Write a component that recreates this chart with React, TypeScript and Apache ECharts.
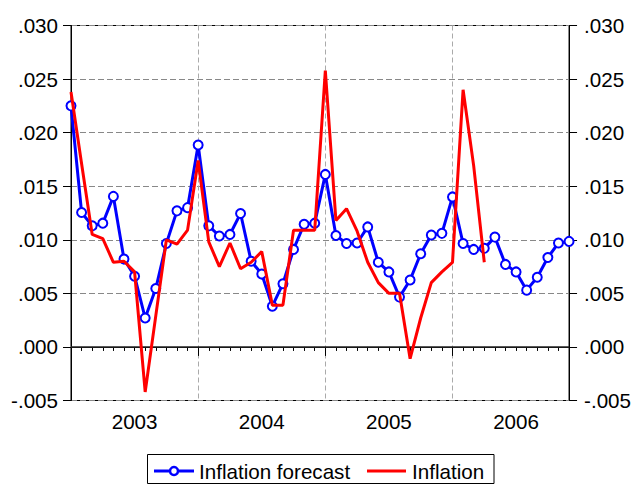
import React, { useEffect, useRef } from "react";
import * as echarts from "echarts";

const years = [2003, 2004, 2005, 2006];
const months = years.flatMap((y) =>
  Array.from({ length: 12 }, (_, m) => `${y}M${String(m + 1).padStart(2, "0")}`)
);

const forecast = [
  0.0225, 0.01255, 0.0113, 0.01155, 0.01405, 0.0082, 0.0066, 0.0027, 0.00545, 0.00965, 0.0127, 0.013,
  0.01885, 0.0113, 0.01035, 0.0105, 0.01245, 0.008, 0.0068, 0.0038, 0.0059, 0.0091, 0.01145, 0.01155,
  0.0161, 0.0104, 0.00965, 0.0097, 0.0112, 0.0079, 0.007, 0.00465, 0.00625, 0.0087, 0.01045, 0.0106,
  0.014, 0.00965, 0.0091, 0.0092, 0.01025, 0.0077, 0.007, 0.0053, 0.0065, 0.00835, 0.0097, 0.00985,
];

const inflation = [
  0.0238, 0.0171, 0.0105, 0.0101, 0.0079, 0.008, 0.007, -0.0042, 0.0029, 0.01, 0.0096, 0.0109,
  0.0174, 0.0098, 0.0075, 0.0097, 0.0073, 0.0079, 0.0089, 0.0039, 0.0039, 0.0109, 0.0109, 0.0109,
  0.0258, 0.0118, 0.0129, 0.0108, 0.0079, 0.006, 0.005, 0.005, -0.0011, 0.0027, 0.006, 0.007,
  0.0079, 0.024, 0.0169, 0.0079, null, null, null, null, null, null, null, null,
];

const yTicks = { min: -0.005, max: 0.03, interval: 0.005 };
const seriesNames = ["Inflation forecast", "Inflation"];

const FONT = "'Liberation Sans', Arial, Helvetica, sans-serif";
const FS = 20.6;

const fmtY = (v: number) => {
  const s = Math.abs(v).toFixed(3).replace(/^0/, "");
  return v < -1e-9 ? "-" + s : s;
};

export default function App() {
  const ref = useRef<HTMLDivElement>(null);
  useEffect(() => {
    document.body.style.margin = "0";
    const chart = echarts.init(ref.current!, null, { renderer: "svg" });
    const yBase = {
      type: "value",
      min: yTicks.min,
      max: yTicks.max,
      interval: yTicks.interval,
      axisLine: { show: true, lineStyle: { color: "#000", width: 1 } },
      axisTick: { show: true, inside: false, length: 8, lineStyle: { color: "#000" } },
      axisLabel: { formatter: fmtY, fontSize: FS, color: "#000", fontFamily: FONT },
    };
    chart.setOption({
      animation: false,
      backgroundColor: "#fff",
      grid: {
        left: 71,
        right: 63,
        top: 25.5,
        bottom: 84.5,
        show: true,
        borderColor: "#000",
        borderWidth: 1,
        backgroundColor: "transparent",
      },
      xAxis: [
        {
          type: "category",
          data: months,
          boundaryGap: false,
          position: "bottom",
          axisLine: { show: true, lineStyle: { color: "#000", width: 1 } },
          axisTick: { show: true, interval: 0, length: 4, lineStyle: { color: "#000" } },
          axisLabel: {
            interval: (i: number) => i % 12 === 6,
            formatter: (v: string) => v.slice(0, 4),
            fontSize: FS,
            color: "#000",
            fontFamily: FONT,
            margin: 10,
          },
          splitLine: {
            show: true,
            interval: (i: number) => i % 12 === 0 && i > 0,
            lineStyle: { color: "#aaa", type: [5, 3], width: 1 },
          },
        },
        {
          type: "category",
          data: months,
          boundaryGap: false,
          position: "bottom",
          offset: 0,
          axisLine: { show: false },
          axisTick: {
            show: true,
            interval: (i: number) => i % 12 === 0,
            length: 9,
            lineStyle: { color: "#000" },
          },
          axisLabel: { show: false },
          splitLine: { show: false },
        },
      ],
      yAxis: [
        {
          ...yBase,
          position: "left",
          axisLabel: { ...yBase.axisLabel, margin: 13 },
          splitLine: { show: true, lineStyle: { color: "#888", type: [6, 3], width: 1 } },
        },
        {
          ...yBase,
          position: "right",
          axisLabel: { ...yBase.axisLabel, margin: 15 },
          splitLine: { show: false },
        },
      ],
      series: [
        {
          name: seriesNames[0],
          type: "line",
          data: forecast,
          xAxisIndex: 0,
          yAxisIndex: 0,
          symbol: "emptyCircle",
          symbolSize: 9,
          showAllSymbol: true,
          lineStyle: { color: "#0000ff", width: 3 },
          itemStyle: { color: "#0000ff", borderColor: "#0000ff", borderWidth: 2.5 },
          markLine: {
            silent: true,
            symbol: ["none", "none"],
            label: { show: false },
            lineStyle: { color: "#222", type: "solid", width: 1.5 },
            data: [{ yAxis: 0 }],
            z: 1,
          },
          z: 3,
        },
        {
          name: seriesNames[1],
          type: "line",
          data: inflation,
          xAxisIndex: 0,
          yAxisIndex: 0,
          symbol: "none",
          connectNulls: false,
          lineStyle: { color: "#ff0000", width: 3 },
          itemStyle: { color: "#ff0000" },
          z: 4,
        },
      ],
      graphic: [
        {
          type: "rect",
          shape: { x: 147.5, y: 454.5, width: 346.5, height: 29 },
          style: { fill: "#fff", stroke: "#000", lineWidth: 1 },
        },
        {
          type: "line",
          shape: { x1: 154, y1: 471, x2: 194, y2: 471 },
          style: { stroke: "#0000ff", lineWidth: 3 },
        },
        {
          type: "circle",
          shape: { cx: 174, cy: 471, r: 4 },
          style: { fill: "#fff", stroke: "#0000ff", lineWidth: 2.5 },
        },
        {
          type: "text",
          x: 199,
          y: 471,
          style: {
            text: seriesNames[0],
            fontSize: FS,
            fontFamily: FONT,
            fill: "#000",
            verticalAlign: "middle",
            align: "left",
          },
        },
        {
          type: "line",
          shape: { x1: 367, y1: 471, x2: 406, y2: 471 },
          style: { stroke: "#ff0000", lineWidth: 3 },
        },
        {
          type: "text",
          x: 412,
          y: 471,
          style: {
            text: seriesNames[1],
            fontSize: FS,
            fontFamily: FONT,
            fill: "#000",
            verticalAlign: "middle",
            align: "left",
          },
        },
      ],
    });
    return () => chart.dispose();
  }, []);
  return <div ref={ref} style={{ width: 634, height: 485 }} />;
}
